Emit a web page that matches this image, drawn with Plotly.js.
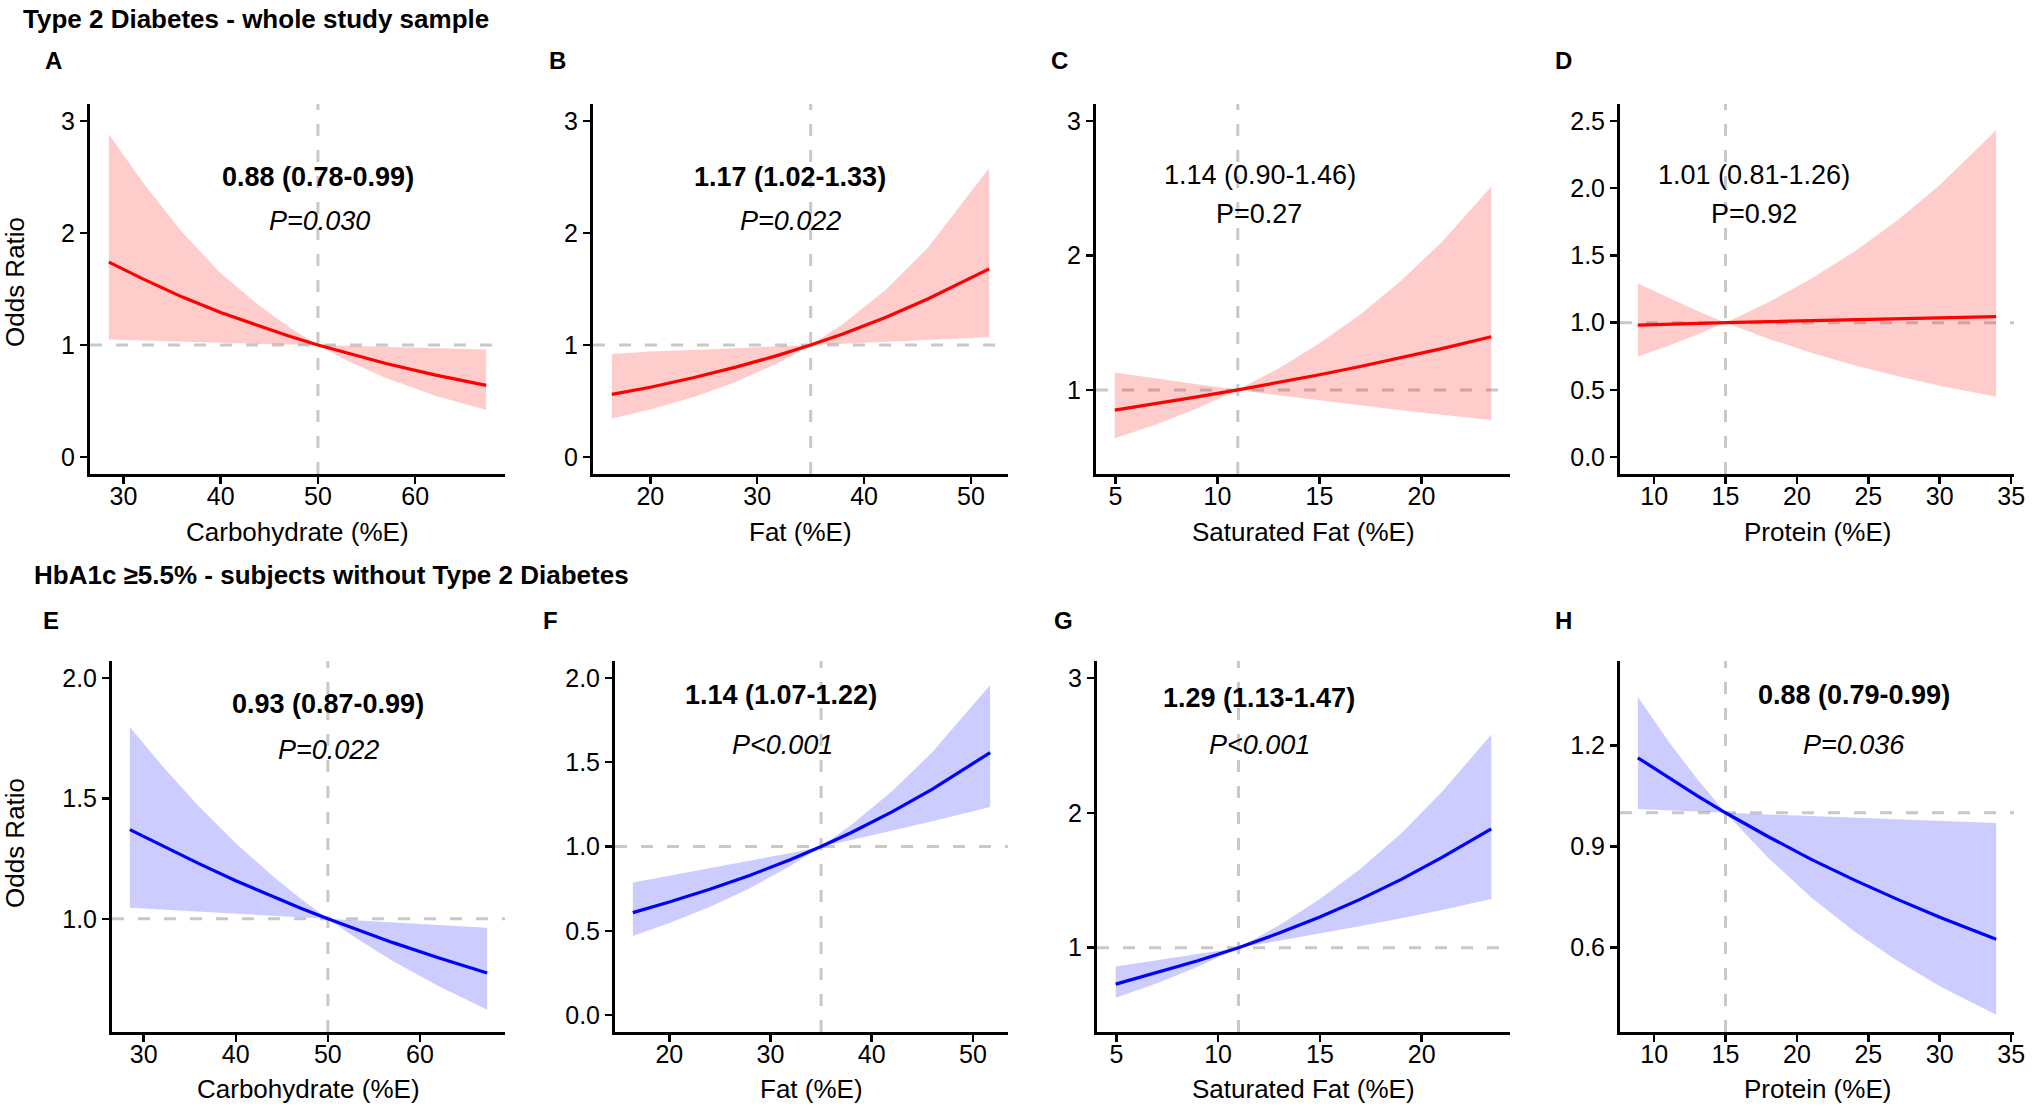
<!DOCTYPE html>
<html>
<head>
<meta charset="utf-8">
<script src="https://cdn.plot.ly/plotly-3.0.1.min.js"></script>
<style>html,body{margin:0;padding:0;background:#fff;}</style>
</head>
<body>
<div id="chart" style="width:2032px;height:1109px;"></div>
<script>
// ---------------- DATA ----------------
// Panel A: Type 2 Diabetes, Carbohydrate (%E)
const aX  = [28.5, 32, 36, 40, 44, 47, 50, 53, 57, 62, 67.3];
const aOR = [1.74, 1.59, 1.43, 1.29, 1.17, 1.08, 1.00, 0.93, 0.835, 0.734, 0.64];
const aLo = [1.05, 1.04, 1.03, 1.02, 1.01, 1.006, 1.00, 0.86, 0.706, 0.551, 0.42];
const aHi = [2.88, 2.45, 2.01, 1.64, 1.35, 1.16, 1.00, 0.994, 0.986, 0.976, 0.96];
// Panel B: Type 2 Diabetes, Fat (%E)
const bX  = [16.4, 20, 24, 28, 32, 35, 38, 42, 46, 51.7];
const bOR = [0.56, 0.624, 0.708, 0.803, 0.91, 1.00, 1.099, 1.246, 1.413, 1.68];
const bLo = [0.346, 0.425, 0.534, 0.671, 0.843, 1.00, 1.012, 1.028, 1.045, 1.07];
const bHi = [0.92, 0.942, 0.957, 0.973, 0.988, 1.00, 1.186, 1.49, 1.872, 2.58];
// Panel C: Type 2 Diabetes, Saturated Fat (%E)
const cX  = [4.97, 7, 9, 11, 13, 15, 17, 19, 21, 23.42];
const cOR = [0.85, 0.898, 0.948, 1.00, 1.055, 1.113, 1.174, 1.239, 1.307, 1.395];
const cLo = [0.64, 0.743, 0.862, 1.00, 0.96, 0.922, 0.885, 0.849, 0.815, 0.776];
const cHi = [1.13, 1.085, 1.041, 1.00, 1.16, 1.346, 1.561, 1.811, 2.10, 2.51];
// Panel D: Type 2 Diabetes, Protein (%E)
const dX  = [8.86, 11, 13, 15, 18, 21, 24, 27, 30, 33.95];
const dOR = [0.982, 0.99, 0.995, 1.00, 1.008, 1.015, 1.023, 1.03, 1.038, 1.044];
const dLo = [0.749, 0.829, 0.91, 1.00, 0.881, 0.776, 0.684, 0.603, 0.531, 0.449];
const dHi = [1.29, 1.184, 1.088, 1.00, 1.151, 1.326, 1.527, 1.757, 2.023, 2.43];
// Panel E: HbA1c >=5.5%, Carbohydrate (%E)
const eX  = [28.5, 32, 36, 40, 44, 47, 50, 53, 57, 62, 67.3];
const eOR = [1.37, 1.303, 1.229, 1.158, 1.092, 1.045, 1.00, 0.957, 0.902, 0.838, 0.775];
const eLo = [1.046, 1.039, 1.03, 1.021, 1.013, 1.006, 1.00, 0.921, 0.826, 0.721, 0.622];
const eHi = [1.796, 1.635, 1.466, 1.314, 1.178, 1.085, 1.00, 0.994, 0.985, 0.975, 0.963];
// Panel F: HbA1c >=5.5%, Fat (%E)
const fX  = [16.4, 20, 24, 28, 32, 35, 38, 42, 46, 51.7];
const fOR = [0.608, 0.671, 0.746, 0.83, 0.923, 1.00, 1.083, 1.205, 1.34, 1.557];
const fLo = [0.47, 0.546, 0.641, 0.754, 0.886, 1.00, 1.039, 1.093, 1.15, 1.234];
const fHi = [0.787, 0.827, 0.87, 0.915, 0.962, 1.00, 1.129, 1.327, 1.56, 1.958];
// Panel G: HbA1c >=5.5%, Saturated Fat (%E)
const gX  = [4.97, 7, 9, 11, 13, 15, 17, 19, 21, 23.42];
const gOR = [0.73, 0.815, 0.903, 1.00, 1.108, 1.227, 1.36, 1.506, 1.669, 1.88];
const gLo = [0.628, 0.736, 0.858, 1.00, 1.051, 1.104, 1.16, 1.219, 1.28, 1.36];
const gHi = [0.861, 0.906, 0.952, 1.00, 1.166, 1.36, 1.585, 1.849, 2.155, 2.58];
// Panel H: HbA1c >=5.5%, Protein (%E)
const hX  = [8.86, 11, 13, 15, 18, 21, 24, 27, 30, 33.95];
const hOR = [1.163, 1.104, 1.051, 1.00, 0.929, 0.862, 0.801, 0.744, 0.69, 0.625];
const hLo = [1.011, 1.007, 1.003, 1.00, 0.866, 0.749, 0.649, 0.562, 0.486, 0.401];
const hHi = [1.343, 1.212, 1.101, 1.00, 0.995, 0.99, 0.985, 0.98, 0.975, 0.97];

// reference (median) intake for each panel
const refX = [50, 35, 11, 15, 50, 35, 11, 15];

// labels
const panelLetters = ['A','B','C','D','E','F','G','H'];
const xTitles = ['Carbohydrate (%E)','Fat (%E)','Saturated Fat (%E)','Protein (%E)',
                 'Carbohydrate (%E)','Fat (%E)','Saturated Fat (%E)','Protein (%E)'];
const orText = ['0.88 (0.78-0.99)','1.17 (1.02-1.33)','1.14 (0.90-1.46)','1.01 (0.81-1.26)',
                '0.93 (0.87-0.99)','1.14 (1.07-1.22)','1.29 (1.13-1.47)','0.88 (0.79-0.99)'];
const pText  = ['P=0.030','P=0.022','P=0.27','P=0.92',
                'P=0.022','P<0.001','P<0.001','P=0.036'];
const significant = [true, true, false, false, true, true, true, true];
const rowTitles = ['Type 2 Diabetes - whole study sample',
                   'HbA1c \u22655.5% - subjects without Type 2 Diabetes'];

// tick labels
const carbTicks = [30, 40, 50, 60];
const fatTicks  = [20, 30, 40, 50];
const satTicks  = [5, 10, 15, 20];
const protTicks = [10, 15, 20, 25, 30, 35];
const yTicksA = [0, 1, 2, 3];             const yLabA = ['0','1','2','3'];
const yTicksC = [1, 2, 3];                const yLabC = ['1','2','3'];
const yTicksD = [0, 0.5, 1, 1.5, 2, 2.5]; const yLabD = ['0.0','0.5','1.0','1.5','2.0','2.5'];
const yTicksE = [1, 1.5, 2];              const yLabE = ['1.0','1.5','2.0'];
const yTicksF = [0, 0.5, 1, 1.5, 2];      const yLabF = ['0.0','0.5','1.0','1.5','2.0'];
const yTicksH = [0.6, 0.9, 1.2];          const yLabH = ['0.6','0.9','1.2'];

// ---------------- LAYOUT / STYLE ----------------
const W = 2032, H = 1109;
const FONT = 'Liberation Sans, Arial, Helvetica, sans-serif';
const px = v => v / W;
const py = v => 1 - v / H;

const panels = [
  {x:aX, or:aOR, lo:aLo, hi:aHi, xt:carbTicks, yt:yTicksA, yl:yLabA, xr:[26.56,69.24], yr:[-0.15,3.15],   dom:[90,505]},
  {x:bX, or:bOR, lo:bLo, hi:bHi, xt:fatTicks,  yt:yTicksA, yl:yLabA, xr:[14.635,53.465], yr:[-0.15,3.15], dom:[593,1008]},
  {x:cX, or:cOR, lo:cLo, hi:cHi, xt:satTicks,  yt:yTicksC, yl:yLabC, xr:[4.05,24.34], yr:[0.375,3.125],   dom:[1096,1510]},
  {x:dX, or:dOR, lo:dLo, hi:dHi, xt:protTicks, yt:yTicksD, yl:yLabD, xr:[7.61,35.2], yr:[-0.125,2.625],   dom:[1620,2014]},
  {x:eX, or:eOR, lo:eLo, hi:eHi, xt:carbTicks, yt:yTicksE, yl:yLabE, xr:[26.56,69.24], yr:[0.53,2.07],    dom:[112,505]},
  {x:fX, or:fOR, lo:fLo, hi:fHi, xt:fatTicks,  yt:yTicksF, yl:yLabF, xr:[14.635,53.465], yr:[-0.1,2.1],   dom:[615,1008]},
  {x:gX, or:gOR, lo:gLo, hi:gHi, xt:satTicks,  yt:yTicksC, yl:yLabC, xr:[4.05,24.34], yr:[0.375,3.125],   dom:[1097,1510]},
  {x:hX, or:hOR, lo:hLo, hi:hHi, xt:protTicks, yt:yTicksH, yl:yLabH, xr:[7.61,35.2], yr:[0.35,1.45],      dom:[1620,2014]}
];
const rowY = [[104,474],[661,1032]];
const annPos = [
  [[318,177],[319,221]], [[790,177],[790,221]], [[1260,175],[1259,214]], [[1754,175],[1754,214]],
  [[328,704],[328,750]], [[781,695],[782,745]], [[1259,698],[1259,745]], [[1854,695],[1854,745]]
];
const letterPos = [[53,60],[557,60],[1059,60],[1563,60],[51,620],[550,620],[1063,620],[1563,620]];
const xTitleY = [532, 1089];

const traces = [];
const layout = {
  width: W, height: H,
  margin: {l:0, r:0, t:0, b:0},
  paper_bgcolor: '#ffffff', plot_bgcolor: '#ffffff',
  showlegend: false,
  font: {family: FONT, color: '#000'},
  shapes: [], annotations: []
};

panels.forEach((p, i) => {
  const n = i + 1;
  const xa = 'x' + (n === 1 ? '' : n), ya = 'y' + (n === 1 ? '' : n);
  const row = i < 4 ? 0 : 1;
  const line = row === 0 ? '#ff0000' : '#0000ff';
  const fill = row === 0 ? 'rgba(255,0,0,0.2)' : 'rgba(0,0,255,0.2)';

  traces.push({x:p.x, y:p.lo, xaxis:xa, yaxis:ya, type:'scatter', mode:'lines',
               line:{width:0, color:fill}, hoverinfo:'skip'});
  traces.push({x:p.x, y:p.hi, xaxis:xa, yaxis:ya, type:'scatter', mode:'lines',
               fill:'tonexty', fillcolor:fill, line:{width:0, color:fill}, hoverinfo:'skip'});
  traces.push({x:p.x, y:p.or, xaxis:xa, yaxis:ya, type:'scatter', mode:'lines',
               line:{width:3.2, color:line}});

  const axBase = {showgrid:false, zeroline:false, showline:true, linecolor:'#000', linewidth:3,
                  ticks:'outside', ticklen:7, tickwidth:2.5, tickcolor:'#000',
                  tickfont:{family:FONT, size:25, color:'#000'}, fixedrange:true};
  layout['xaxis' + (n === 1 ? '' : n)] = Object.assign({}, axBase, {
    domain:[px(p.dom[0]), px(p.dom[1])], range:p.xr, anchor:ya,
    tickmode:'array', tickvals:p.xt, ticktext:p.xt.map(String), ticklabelstandoff:-9
  });
  layout['yaxis' + (n === 1 ? '' : n)] = Object.assign({}, axBase, {
    domain:[py(rowY[row][1]), py(rowY[row][0])], range:p.yr, anchor:xa,
    tickmode:'array', tickvals:p.yt, ticktext:p.yl
  });

  // reference lines
  layout.shapes.push({type:'line', layer:'below', xref:xa, yref:ya + ' domain',
    x0:refX[i], x1:refX[i], y0:0, y1:1, line:{color:'#c8c8c8', width:3, dash:'12px,14px'}});
  layout.shapes.push({type:'line', layer:'below', xref:xa + ' domain', yref:ya,
    x0:0, x1:1, y0:1, y1:1, line:{color:'#c8c8c8', width:3, dash:'12px,14px'}});

  // OR text and p-value
  const sig = significant[i];
  const pt = pText[i].replace('<', '&lt;');
  layout.annotations.push({xref:'paper', yref:'paper', x:px(annPos[i][0][0]), y:py(annPos[i][0][1]),
    xanchor:'center', yanchor:'middle', showarrow:false,
    text: sig ? '<b>' + orText[i] + '</b>' : orText[i],
    font:{family:FONT, size:27, color:'#000'}});
  layout.annotations.push({xref:'paper', yref:'paper', x:px(annPos[i][1][0]), y:py(annPos[i][1][1]),
    xanchor:'center', yanchor:'middle', showarrow:false,
    text: sig ? '<i>' + pt + '</i>' : pt,
    font:{family:FONT, size:27, color:'#000'}});
  // panel letter
  layout.annotations.push({xref:'paper', yref:'paper', x:px(letterPos[i][0]), y:py(letterPos[i][1]),
    xanchor:'center', yanchor:'middle', showarrow:false,
    text:'<b>' + panelLetters[i] + '</b>', font:{family:FONT, size:24, color:'#000'}});
  // x axis title
  layout.annotations.push({xref:'paper', yref:'paper', x:px((p.dom[0] + p.dom[1]) / 2),
    y:py(xTitleY[row]), xanchor:'center', yanchor:'middle', showarrow:false,
    text:xTitles[i], font:{family:FONT, size:26, color:'#000'}});
});

// y axis titles
[[15,282],[15,843]].forEach(pos => {
  layout.annotations.push({xref:'paper', yref:'paper', x:px(pos[0]), y:py(pos[1]),
    xanchor:'center', yanchor:'middle', showarrow:false, textangle:-90,
    text:'Odds Ratio', font:{family:FONT, size:26, color:'#000'}});
});
// row titles
layout.annotations.push({xref:'paper', yref:'paper', x:px(21), y:py(19), xanchor:'left', yanchor:'middle',
  showarrow:false, text:'<b>' + rowTitles[0] + '</b>', font:{family:FONT, size:26, color:'#000'}});
layout.annotations.push({xref:'paper', yref:'paper', x:px(32), y:py(575), xanchor:'left', yanchor:'middle',
  showarrow:false, text:'<b>' + rowTitles[1] + '</b>', font:{family:FONT, size:26, color:'#000'}});

Plotly.newPlot('chart', traces, layout, {displayModeBar:false, staticPlot:true});
</script>
</body>
</html>
